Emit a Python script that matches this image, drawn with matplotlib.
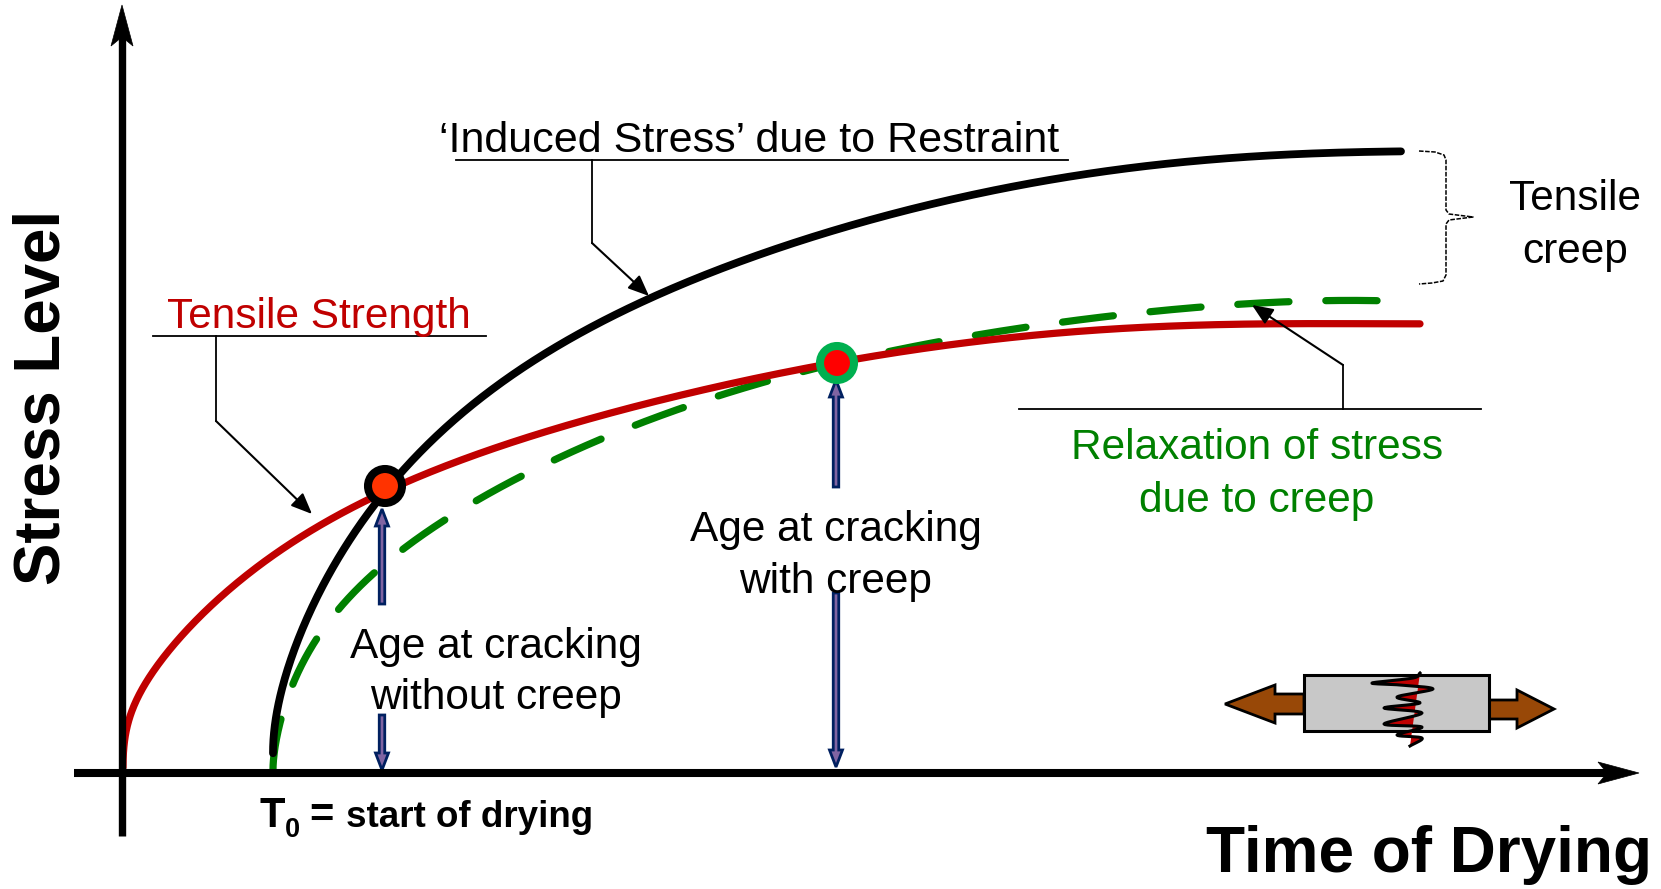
import numpy as np
import matplotlib
matplotlib.use("Agg")
import matplotlib.pyplot as plt
from matplotlib.patches import Polygon, Rectangle, Circle, FancyArrow

plt.rcParams['font.family'] = ['Liberation Sans', 'DejaVu Sans']

# curves (x, y in reference pixels)
strength_x = [123,125,135,150,170,190,213,243,277,310,343,370,405,433,467,500,533,567,600,633,660,713,780,817,862,951,1061,1172,1283,1420]
strength_y = [768,737,703,677,650,627,603,577,553,530,513,500,483,472,458,446,435,425,415,407,399,388,375,368,357,343,333,327,323,324]
induced_x = [273,275,280,288,300,317,337,357,377,400,433,467,500,533,567,600,633,673,707,740,773,807,840,880,913,947,980,1013,1047,1080,1113,1172,1246,1320,1401]
induced_y = [752,727,697,667,633,597,560,530,503,475,440,408,382,360,340,323,308,288,273,260,250,240,230,220,209,200,192,185,179,174,170,165,158,153,151]
creep_x = [273,276,283,292,321,341,382,405,478,528,555,608,637,691,720,775,807,888,947,975,1033,1061,1120,1149,1208,1237,1296,1324,1383]
creep_y = [768,747,710,682,633,608,568,548,498,472,459,436,424,405,396,381,372,351,339,335,326,322,314,312,307,305,302,301,300]

# annotation text
induced_label = "\u2018Induced Stress\u2019 due to Restraint"
strength_label = "Tensile Strength"
relax_labels = ["Relaxation of stress", "due to creep"]
creep_labels = ["Tensile", "creep"]
age_with_labels = ["Age at cracking", "with creep"]
age_without_labels = ["Age at cracking", "without creep"]
x_title = "Time of Drying"
y_title = "Stress Level"

# crack outline on the specimen
crack_x = [1420,1413,1372,1400,1433,1397,1420,1384,1422,1384,1422,1397,1422,1410]
crack_y = [673,678,683,685,689,697,703,708,713,724,727,735,738,746]


def spline(x, y, n=12):
    p = np.column_stack([x, y]).astype(float)
    p = np.vstack([2 * p[0] - p[1], p, 2 * p[-1] - p[-2]])
    out = []
    for i in range(1, len(p) - 2):
        t = np.linspace(0, 1, n, endpoint=False)[:, None]
        a, b, c, d = p[i - 1], p[i], p[i + 1], p[i + 2]
        out.append(0.5 * (2 * b + (c - a) * t + (2 * a - 5 * b + 4 * c - d) * t**2
                          + (3 * b - a - 3 * c + d) * t**3))
    out.append(p[-2][None, :])
    return np.vstack(out)


def fair(x, y, deg=7):
    """Even curve through the read points (they rise steeply from the first x)."""
    x = np.asarray(x, float)
    y = np.asarray(y, float)
    u = np.sqrt(x - x[0])
    fit = np.polynomial.Polynomial.fit(u, y, deg)
    uu = np.linspace(u[0], u[-1], 500)
    return np.column_stack([x[0] + uu**2, fit(uu)])


fig = plt.figure(figsize=(16.61, 8.89), dpi=100)
ax = fig.add_axes([0, 0, 1, 1])
ax.set_xlim(0, 1661)
ax.set_ylim(889, 0)
ax.axis('off')

# main axes
AX_X, AX_Y = 122, 773
ax.plot([AX_X, AX_X], [836, 25], color='k', lw=5.3, solid_capstyle='butt', zorder=6)
ax.plot([74, 1610], [AX_Y, AX_Y], color='k', lw=5.8, solid_capstyle='butt', zorder=6)
ax.add_patch(Polygon([[AX_X, 5], [AX_X + 11, 46], [AX_X, 37], [AX_X - 11, 46]], fc='k', ec='k', lw=0.5, zorder=6))
ax.add_patch(Polygon([[1639, AX_Y], [1598, AX_Y + 11], [1607, AX_Y], [1598, AX_Y - 11]], fc='k', ec='k', lw=0.5, zorder=6))

# curves
c = fair(creep_x, creep_y)
ax.plot(c[:, 0], c[:, 1], color='#008000', lw=5.2, linestyle=(0.0, (7.1, 5.1)),
        dash_capstyle='round', zorder=2)
c = fair(strength_x, strength_y)
ax.plot(c[:, 0], c[:, 1], color='#C00000', lw=5.2, solid_capstyle='round', zorder=3)
c = fair(induced_x, induced_y)
ax.plot(c[:, 0], c[:, 1], color='k', lw=5.6, solid_capstyle='round', zorder=4)

# crossing markers
ax.add_patch(Circle((385, 486), 17, fc='#FF3300', ec='k', lw=5.8, zorder=8))
ax.add_patch(Circle((837, 363), 17, fc='#FF0000', ec='#00B050', lw=5.8, zorder=8))


# age arrows
def block_arrow(x, y0, y1):
    ax.add_patch(FancyArrow(x, y0, 0, y1 - y0, width=5.5, head_width=13, head_length=17,
                            length_includes_head=True, fc='#8064A2', ec='#002060', lw=2, zorder=5))


block_arrow(382, 604, 509)
block_arrow(382, 715, 770)
block_arrow(836, 487, 380)
block_arrow(836, 593, 767)


# leaders
def leader(xs, ys):
    ax.plot(xs[:-1], ys[:-1], color='k', lw=1.3, zorder=5)
    ax.annotate('', xy=(xs[-1], ys[-1]), xytext=(xs[-2], ys[-2]),
                arrowprops=dict(arrowstyle='-|>,head_width=0.36,head_length=0.85', color='k', lw=1.5,
                                shrinkA=0, shrinkB=0, mutation_scale=15), zorder=5)


ax.plot([456, 1068], [160, 160], color='k', lw=1.3)
leader([592, 592, 649], [160, 243, 296])
ax.plot([153, 486], [336, 336], color='k', lw=1.3)
leader([216, 216, 312], [336, 421, 514])
ax.plot([1019, 1481], [409, 409], color='k', lw=1.3)
leader([1343, 1343, 1252], [409, 365, 305])

# brace
brace_x = [1419, 1435, 1444, 1446, 1446, 1449, 1473, 1449, 1446, 1446, 1443, 1432, 1419]
brace_y = [151, 152, 155, 160, 210, 214, 217, 220, 224, 275, 281, 283, 284]
ax.plot(brace_x, brace_y, color='k', lw=1.1, linestyle=(0, (3, 1)))

# specimen
ax.add_patch(Polygon([[1225, 704], [1275, 685], [1275, 694], [1304, 694], [1304, 714], [1275, 714], [1275, 723]],
                     fc='#984807', ec='k', lw=2, joinstyle='miter', zorder=3))
ax.add_patch(Polygon([[1554, 709], [1517, 690], [1517, 700], [1488, 700], [1488, 719], [1517, 719], [1517, 728]],
                     fc='#984807', ec='k', lw=2, joinstyle='miter', zorder=3))
ax.add_patch(Rectangle((1304, 675), 185, 56, fc='#C8C8C8', ec='k', lw=2.2, zorder=4))
cr = spline(crack_x, crack_y, 10)
ax.add_patch(Polygon(cr, fc='#C00000', ec='none', zorder=5))
ax.plot(cr[:, 0], cr[:, 1], color='k', lw=2.2, zorder=6)

# text
T = dict(ha='center', va='center', fontsize=30.5, color='k', zorder=9)
ax.text(749, 141, induced_label, **{**T, 'fontsize': 31})
ax.text(319, 317, strength_label, **{**T, 'color': '#C00000'})
for label, y in zip(relax_labels, [448, 501]):
    ax.text(1257, y, label, **{**T, 'color': '#008000'})
for label, y in zip(creep_labels, [199, 252]):
    ax.text(1575, y, label, **T)
for label, y in zip(age_with_labels, [530, 582]):
    ax.text(836, y, label, **T)
for label, y in zip(age_without_labels, [647, 698]):
    ax.text(496, y, label, **T)
B = dict(ha='left', va='baseline', fontweight='bold')
ax.text(259, 827, "T", fontsize=30, **B)
ax.text(285, 837, "0", fontsize=19.5, **B)
ax.text(309, 827, "=", fontsize=30, **B)
ax.text(346, 827, "start of drying", fontsize=26.5, **B)
ax.text(1652, 855, x_title, ha='right', va='center', fontsize=46, fontweight='bold')
ax.text(43, 397, y_title, ha='center', va='center', rotation=90, fontsize=45.8, fontweight='bold')

fig.savefig('out.png', dpi=100)
